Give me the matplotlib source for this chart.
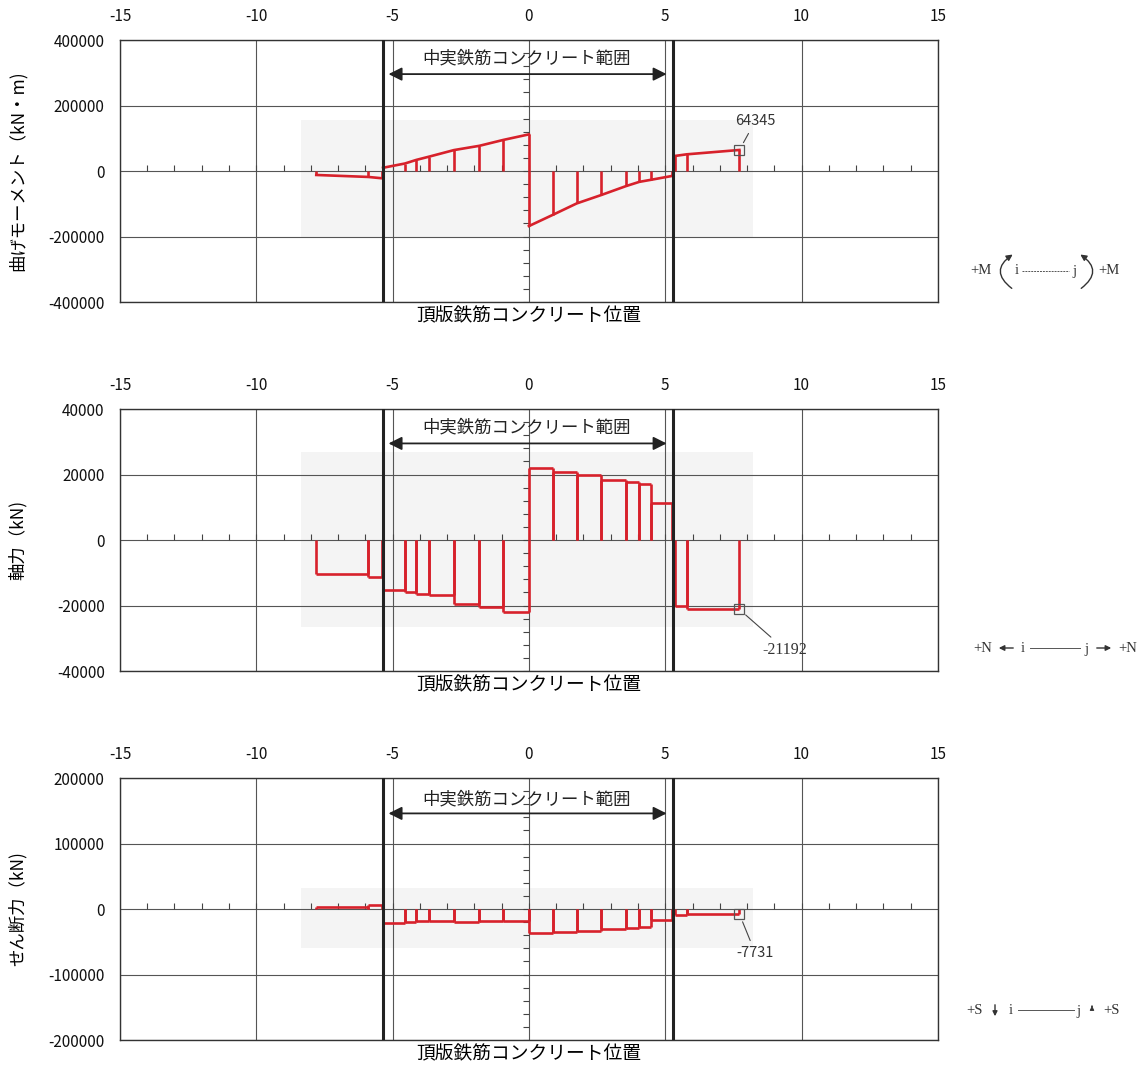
import matplotlib.pyplot as plt
import numpy as np
from matplotlib.patches import Rectangle, FancyArrowPatch

plt.rcParams['font.family'] = ['Noto Sans CJK JP', 'DejaVu Sans']

# ---- data ----
# bending moment: linear pieces, one list per member
mom_x = [[-7.8, -5.9, -5.4],
         [-5.35, -4.55, -4.13, -3.66, -2.75, -1.82, -0.94, 0.0],
         [0.0, 0.87, 1.75, 2.66, 3.56, 4.05, 4.46, 5.25],
         [5.35, 5.78, 7.72]]
mom_val = [[-12000, -18000, -22000],
           [10000, 23000, 34000, 44000, 64000, 77000, 95000, 112000],
           [-168000, -134000, -99000, -73000, -46000, -33000, -27000, -15000],
           [46000, 51000, 64345]]

# axial and shear forces: constant per element, nodes of each member
step_x = [[-7.8, -5.9, -5.4],
          [-5.35, -4.55, -4.13, -3.66, -2.75, -1.82, -0.94, 0.0, 0.87,
           1.75, 2.66, 3.56, 4.05, 4.46, 5.25],
          [5.35, 5.78, 7.72]]
axial_val = [[-10450, -11370],
             [-15230, -15940, -16340, -16850, -19390, -20400, -21830,
              22130, 20710, 20000, 18270, 17660, 17050, 11170],
             [-20000, -21192]]
shear_val = [[2500, 5600],
             [-20900, -19300, -18300, -17800, -20400, -18300, -17800,
              -36100, -35100, -33100, -31000, -29500, -27000, -16300],
             [-8650, -7731]]

x_ticks = [-15, -10, -5, 0, 5, 10, 15]
solid_lo, solid_hi = -5.35, 5.3
range_label = '中実鉄筋コンクリート範囲'
x_label = '頂版鉄筋コンクリート位置'

RED = '#d7212b'

fig = plt.figure(figsize=(11.37, 10.68), dpi=100)

panels = [
    dict(bottom=0.7172, lim=400000, step=200000, minor=40000,
         ylabel='曲げモーメント（kN・m)', shade=(155000, -205000),
         arrow_y=296000, text_y=345000),
    dict(bottom=0.3717, lim=40000, step=20000, minor=4000,
         ylabel='軸力（kN)', shade=(27000, -26500),
         arrow_y=29500, text_y=34500),
    dict(bottom=0.0262, lim=200000, step=100000, minor=20000,
         ylabel='せん断力（kN)', shade=(32000, -59500),
         arrow_y=146000, text_y=168000),
]

axes = []
for p in panels:
    ax = fig.add_axes([0.1055, p['bottom'], 0.7194, 0.2453])
    axes.append(ax)
    ax.set_xlim(-15, 15)
    ax.set_ylim(-p['lim'], p['lim'])
    ax.xaxis.tick_top()
    ax.set_xticks(x_ticks)
    ax.set_xticklabels([str(t) for t in x_ticks])
    yt = np.arange(-p['lim'], p['lim'] + 1, p['step'])
    ax.set_yticks(yt)
    ax.set_yticklabels([str(int(v)) for v in yt])
    ax.tick_params(axis='x', length=0, pad=11, labelsize=11, colors='#111')
    ax.tick_params(axis='y', length=0, pad=11, labelsize=11, colors='#111')
    ax.grid(True, color='#555', lw=0.8)
    for s in ax.spines.values():
        s.set_color('#333')
        s.set_linewidth(1.0)

    ax.set_xlabel(x_label, fontsize=13.5)
    ax.xaxis.set_label_position('bottom')
    ax.xaxis.set_label_coords(0.5, -0.012)
    ax.set_ylabel(p['ylabel'], fontsize=12.5)
    ax.yaxis.set_label_coords(-0.114, 0.5)

    # pasted light grey area
    hi, lo = p['shade']
    ax.add_patch(Rectangle((-8.37, lo), 16.58, hi - lo, facecolor='#f4f4f4',
                           edgecolor='none', zorder=0.8))

    # small ticks along the zero axes
    xs = np.arange(-14, 15)
    ax.plot(xs, np.zeros_like(xs), ls='none', marker=2, ms=4, mew=0.8,
            color='#444', zorder=2)
    ys = np.arange(-p['lim'], p['lim'] + 1, p['minor'])
    ax.plot(np.zeros_like(ys), ys, ls='none', marker=0, ms=4, mew=0.8,
            color='#444', zorder=2)

    # solid concrete range
    for xv in (solid_lo, solid_hi):
        ax.axvline(xv, color='#222', lw=2.2, zorder=4)
    ax.annotate('', xy=(-5.15, p['arrow_y']), xytext=(5.05, p['arrow_y']),
                arrowprops=dict(arrowstyle='<|-|>', color='#222', lw=1.3,
                                mutation_scale=20, shrinkA=0, shrinkB=0))
    ax.text(-0.1, p['text_y'], range_label, ha='center', va='center',
            fontsize=12.5, color='#222')

# moment diagram
ax = axes[0]
for xs, vs in zip(mom_x, mom_val):
    ax.plot(xs, vs, color=RED, lw=1.9, zorder=3)
    ax.vlines(xs, 0, vs, color=RED, lw=1.9, zorder=3)


def draw_steps(ax, node_x, vals):
    for xs, vs in zip(node_x, vals):
        ax.hlines(vs, xs[:-1], xs[1:], color=RED, lw=1.9, zorder=3)
        ax.vlines(xs[:-1], 0, vs, color=RED, lw=1.9, zorder=3)
        ax.vlines(xs[1:], 0, vs, color=RED, lw=1.9, zorder=3)


draw_steps(axes[1], step_x, axial_val)
draw_steps(axes[2], step_x, shear_val)

# end value annotations
end_x = mom_x[-1][-1]
notes = [
    (axes[0], mom_val[-1][-1], '64345', (8.3, 152000), 'sans'),
    (axes[1], axial_val[-1][-1], '-21192', (9.4, -33500), 'serif'),
    (axes[2], shear_val[-1][-1], '-7731', (8.3, -67000), 'sans'),
]
for ax, v, label, pos, fam in notes:
    ax.plot(end_x, v, marker='s', ms=7, mfc='none', mec='#555', mew=0.9,
            zorder=5)
    family = ['Liberation Serif'] if fam == 'serif' else ['Noto Sans CJK JP']
    ax.annotate(label, xy=(end_x, v), xytext=pos, ha='center', va='center',
                fontsize=11.5 if fam == 'serif' else 10.5, family=family,
                color='#333',
                arrowprops=dict(arrowstyle='-', color='#444', lw=0.8,
                                shrinkA=2, shrinkB=6))

# sign conventions on the right (pixel overlay)
ov = fig.add_axes([0, 0, 1, 1])
ov.set_xlim(0, 1137)
ov.set_ylim(1068, 0)
ov.axis('off')
serif = dict(family=['Liberation Serif'], fontsize=10.5, color='#333',
             ha='center', va='center')

yM = 271
ov.text(981, yM, '+M', **serif)
ov.text(1017, yM, 'i', **serif)
ov.text(1074, yM, 'j', **serif)
ov.text(1109, yM, '+M', **serif)
ov.plot([1022, 1069], [yM, yM], color='#555', lw=0.7, ls=(0, (2, 1)))
ov.add_patch(FancyArrowPatch((1014, 290), (1015, 253), connectionstyle='arc3,rad=-0.75',
                             arrowstyle='-|>', mutation_scale=9, color='#333', lw=1.0))
ov.add_patch(FancyArrowPatch((1079, 290), (1078, 253), connectionstyle='arc3,rad=0.75',
                             arrowstyle='-|>', mutation_scale=9, color='#333', lw=1.0))

yN = 648
ov.text(983, yN, '+N', **serif)
ov.annotate('', xy=(996, yN), xytext=(1016, yN),
            arrowprops=dict(arrowstyle='-|>', color='#333', lw=1.0, mutation_scale=8))
ov.text(1023, yN, 'i', **serif)
ov.plot([1030, 1080], [yN, yN], color='#555', lw=0.7)
ov.text(1086, yN + 2, 'j', **serif)
ov.annotate('', xy=(1114, yN), xytext=(1094, yN),
            arrowprops=dict(arrowstyle='-|>', color='#333', lw=1.0, mutation_scale=8))
ov.text(1128, yN, '+N', **serif)

yS = 1010
ov.text(975, yS, '+S', **serif)
ov.annotate('', xy=(995, yS + 9), xytext=(995, yS - 8),
            arrowprops=dict(arrowstyle='-|>', color='#333', lw=1.0, mutation_scale=7))
ov.text(1011, yS, 'i', **serif)
ov.plot([1018, 1074], [yS, yS], color='#555', lw=0.7)
ov.text(1078, yS + 2, 'j', **serif)
ov.annotate('', xy=(1092, yS - 7), xytext=(1092, yS - 1),
            arrowprops=dict(arrowstyle='-|>', color='#333', lw=0.8, mutation_scale=6))
ov.text(1112, yS, '+S', **serif)

fig.savefig('out.png', dpi=100)
